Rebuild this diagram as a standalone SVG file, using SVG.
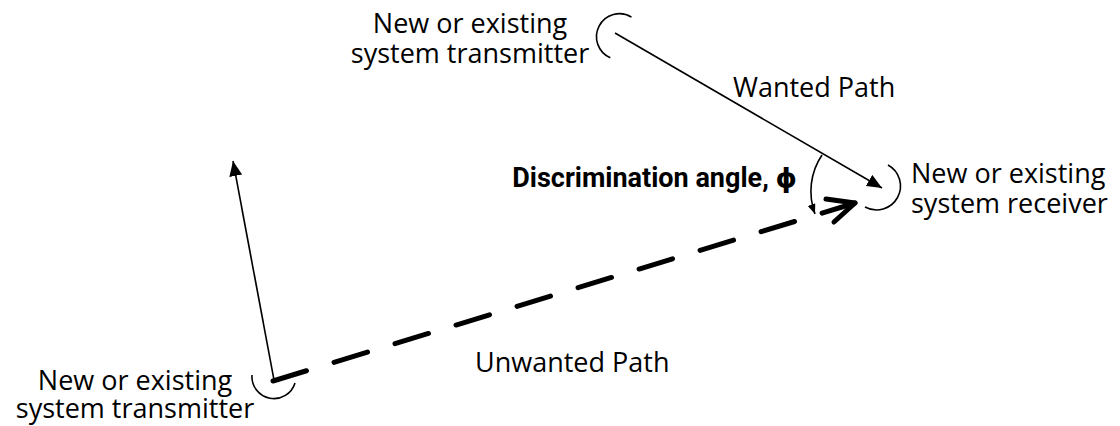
<svg xmlns="http://www.w3.org/2000/svg" width="1120" height="426" viewBox="0 0 1120 426">
  <style>
    .lbl { font-family: "Open Sans", "Noto Sans", "DejaVu Sans", sans-serif; font-size: 27px; fill: #000; }
    .bold { font-family: Roboto, "Open Sans", "DejaVu Sans", sans-serif; font-weight: bold; }
    .thin { fill: none; stroke: #000; stroke-width: 1.6; }
    .dash { fill: none; stroke: #000; stroke-width: 5; stroke-linecap: round; stroke-dasharray: 35 28.8; }
    .chev { fill: none; stroke: #000; stroke-width: 5; stroke-linecap: round; stroke-linejoin: round; }
  </style>
  <defs>
    <marker id="arr" markerUnits="userSpaceOnUse" markerWidth="16" markerHeight="14" refX="15" refY="6.5" orient="auto">
      <path d="M0,0 L15,6.5 L0,13 z" fill="#000"/>
    </marker>
    <marker id="arrS" markerUnits="userSpaceOnUse" markerWidth="11" markerHeight="9" refX="10" refY="4" orient="auto">
      <path d="M0,0 L10,4 L0,8 z" fill="#000"/>
    </marker>
  </defs>
  <rect width="1120" height="426" fill="#fff"/>

  <g id="tx-top">
    <path class="thin" d="M631.5,17.1 A23,23 0 1 0 610.3,57.8"/>
    <text class="lbl" text-anchor="middle"><tspan x="470" y="33">New or existing</tspan><tspan x="470" y="63">system transmitter</tspan></text>
  </g>

  <g id="rx">
    <path class="thin" d="M888,165 A21,21 0 1 1 865,207"/>
    <text class="lbl"><tspan x="911" y="183">New or existing</tspan><tspan x="911" y="213">system receiver</tspan></text>
  </g>

  <g id="tx-bottom">
    <path class="thin" d="M252,375 A22,22 0 0 0 295,383"/>
    <text class="lbl" text-anchor="middle"><tspan x="135" y="390">New or existing</tspan><tspan x="135" y="418">system transmitter</tspan></text>
  </g>

  <g id="connectors">
    <line class="thin" x1="615" y1="33" x2="882" y2="188" marker-end="url(#arr)"/>
    <line class="thin" x1="274" y1="380" x2="233" y2="161" marker-end="url(#arr)"/>
    <path class="thin" d="M822,155 A65,65 0 0 0 815,214" marker-end="url(#arrS)"/>
    <line class="dash" x1="273" y1="381" x2="855" y2="203"/>
    <polyline class="chev" points="826,199 855,203 834,222"/>
  </g>

  <g id="labels">
    <text class="lbl" x="733" y="97">Wanted Path</text>
    <text class="lbl" x="475" y="372">Unwanted Path</text>
    <text class="lbl bold" x="797" y="187" text-anchor="end">Discrimination angle, ϕ</text>
  </g>
</svg>
